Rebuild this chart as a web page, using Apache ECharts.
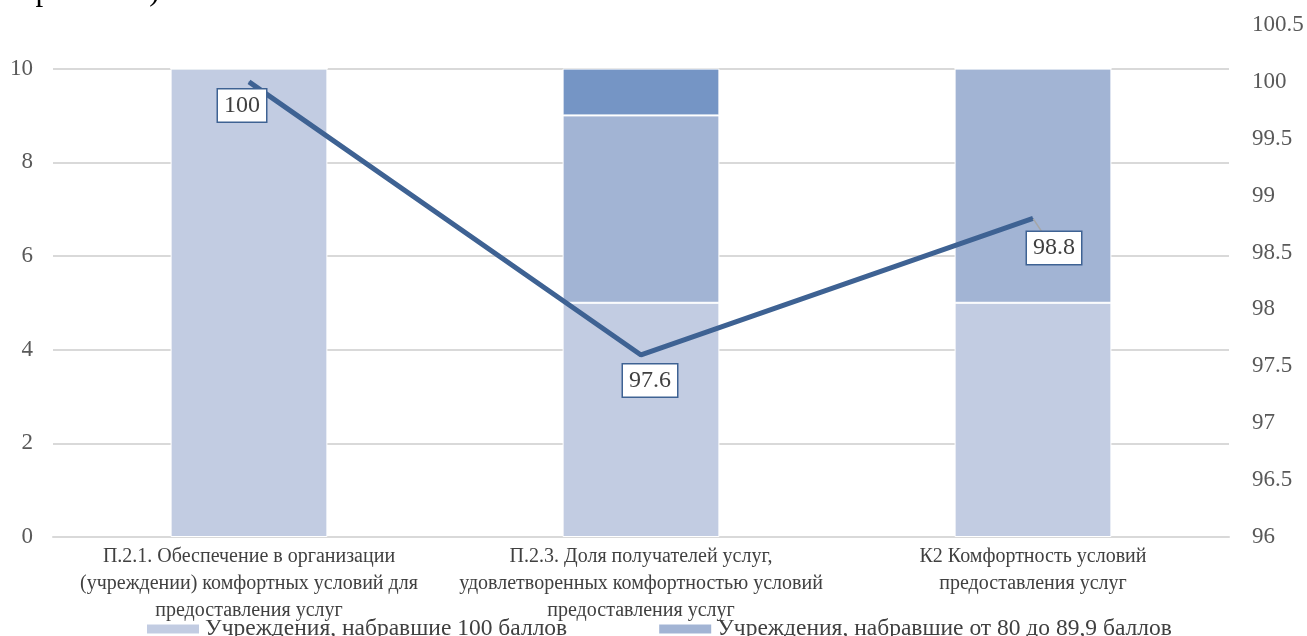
<!DOCTYPE html>
<html>
<head>
<meta charset="utf-8">
<script src="https://cdn.jsdelivr.net/npm/echarts@6/dist/echarts.min.js"></script>
<style>
html, body { margin: 0; padding: 0; background: #fff; }
#main { width: 1307px; height: 636px; }
</style>
</head>
<body>
<div id="main"></div>
<script>
var categories = [
    'П.2.1. Обеспечение в организации\n(учреждении) комфортных условий для\nпредоставления услуг',
    'П.2.3. Доля получателей услуг,\nудовлетворенных комфортностью условий\nпредоставления услуг',
    'К2 Комфортность условий\nпредоставления услуг'
];
var seriesNames = [
    'Учреждения, набравшие 100 баллов',
    'Учреждения, набравшие от 80 до 89,9 баллов',
    'Учреждения, набравшие от 90 до 99,9 баллов',
    'Среднее значение'
];
var count100 = [10, 5, 5];
var count80 = [0, 4, 5];
var count90 = [0, 1, 0];
var averageScore = [100, 97.6, 98.8];
var rightTicks = { min: 96, max: 100.5, step: 0.5 };

var fontFamily = '"Liberation Serif", "Times New Roman", serif';
var lineColor = '#3E6293';

// label offsets per point (position only, values come from averageScore)
var labelTweaks = [
    { offset: [-7, 0], distance: 7 },
    { offset: [9, 0], distance: 9 },
    { offset: [21, 0], distance: 13, line: true }
];

var lineData = averageScore.map(function (v, i) {
    var t = labelTweaks[i];
    var item = { value: v, label: { offset: t.offset, distance: t.distance } };
    if (t.line) {
        item.labelLine = { show: true, lineStyle: { color: '#A6A6A6', width: 1.5 } };
    }
    return item;
});

var myChart = echarts.init(document.getElementById('main'));

var option = {
    animation: false,
    backgroundColor: '#fff',
    textStyle: { fontFamily: fontFamily },
    graphic: [{
        type: 'text',
        left: 0,
        top: -24,
        style: {
            text: 'выражении)',
            font: '31px ' + fontFamily,
            fill: '#000'
        }
    }],
    grid: { left: 53, right: 78, top: 25, bottom: 99 },
    legend: {
        data: [seriesNames[0], seriesNames[1]],
        left: 140,
        top: 612,
        itemWidth: 54,
        itemHeight: 11,
        itemGap: 90,
        icon: 'rect',
        textStyle: { fontSize: 23.5, color: '#404040', fontFamily: fontFamily }
    },
    xAxis: {
        type: 'category',
        data: categories,
        axisTick: { show: false },
        axisLine: { lineStyle: { color: '#D9D9D9', width: 2 } },
        axisLabel: {
            interval: 0,
            margin: 6,
            fontSize: 20,
            lineHeight: 27,
            color: '#404040',
            fontFamily: fontFamily
        }
    },
    yAxis: [{
        type: 'value',
        min: 0,
        max: 10.93,
        interval: 2,
        axisLine: { show: false },
        axisTick: { show: false },
        splitLine: { showMaxLine: false, lineStyle: { color: '#D9D9D9', width: 2 } },
        axisLabel: {
            showMaxLabel: false,
            margin: 20,
            fontSize: 23,
            color: '#595959',
            fontFamily: fontFamily
        }
    }, {
        type: 'value',
        min: rightTicks.min,
        max: rightTicks.max,
        interval: rightTicks.step,
        axisLine: { show: false },
        axisTick: { show: false },
        splitLine: { show: false },
        axisLabel: {
            margin: 23,
            fontSize: 23,
            color: '#595959',
            fontFamily: fontFamily
        }
    }],
    series: [{
        name: seriesNames[0],
        type: 'bar',
        stack: 'total',
        barWidth: '40%',
        data: count100,
        itemStyle: { color: '#C2CCE2', borderColor: '#fff', borderWidth: 1 }
    }, {
        name: seriesNames[1],
        type: 'bar',
        stack: 'total',
        data: count80,
        itemStyle: { color: '#A2B4D4', borderColor: '#fff', borderWidth: 1 }
    }, {
        name: seriesNames[2],
        type: 'bar',
        stack: 'total',
        data: count90,
        itemStyle: { color: '#7595C5', borderColor: '#fff', borderWidth: 1 }
    }, {
        name: seriesNames[3],
        type: 'line',
        yAxisIndex: 1,
        data: lineData,
        symbol: 'circle',
        symbolSize: 1,
        lineStyle: { color: lineColor, width: 5 },
        itemStyle: { color: lineColor },
        z: 5,
        label: {
            show: true,
            position: 'bottom',
            fontSize: 24,
            lineHeight: 26,
            color: '#404040',
            fontFamily: fontFamily,
            backgroundColor: '#fff',
            borderColor: lineColor,
            borderWidth: 1.5,
            padding: [3, 6]
        }
    }]
};

myChart.setOption(option);
</script>
</body>
</html>
